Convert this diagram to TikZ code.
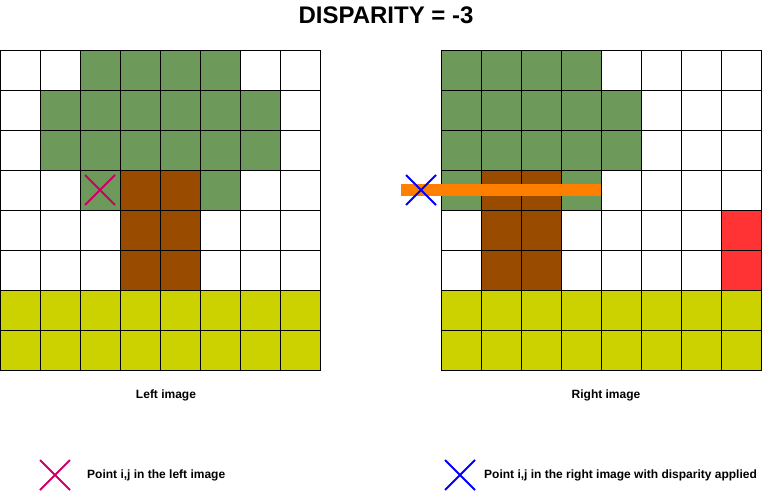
\documentclass[tikz,border=0pt]{standalone}
\usepackage{fontspec}
\setmainfont{Liberation Sans}
\definecolor{cg}{HTML}{6D9A5A}
\definecolor{cb}{HTML}{994C00}
\definecolor{cy}{HTML}{CCD100}
\definecolor{cr}{HTML}{FF3333}
\definecolor{co}{HTML}{FF8000}
\definecolor{cmag}{HTML}{CC0066}
\definecolor{cbl}{HTML}{0000FF}
\begin{document}
\begin{tikzpicture}[x=1pt,y=-1pt,
  lbl/.style={font=\bfseries\fontsize{12}{14}\selectfont,anchor=center,inner sep=0pt},
  cellw/.style={draw=black,line width=0.6pt}]
\useasboundingbox[fill=white] (0,0) rectangle (763,492);
\node[font=\bfseries\fontsize{24}{28}\selectfont] (title) at (386,15) {DISPARITY = -3};
\def\drawrow#1#2#3{%
  \foreach \col [count=\c from 0] in {#3}{
    \fill[\col] ({#1+40*\c},{50+40*#2}) rectangle ++(40,40);
    \draw[cellw] ({#1+40*\c},{50+40*#2}) rectangle ++(40,40);
  }}
\drawrow{0}{0}{white,white,cg,cg,cg,cg,white,white}
\drawrow{0}{1}{white,cg,cg,cg,cg,cg,cg,white}
\drawrow{0}{2}{white,cg,cg,cg,cg,cg,cg,white}
\drawrow{0}{3}{white,white,cg,cb,cb,cg,white,white}
\drawrow{0}{4}{white,white,white,cb,cb,white,white,white}
\drawrow{0}{5}{white,white,white,cb,cb,white,white,white}
\drawrow{0}{6}{cy,cy,cy,cy,cy,cy,cy,cy}
\drawrow{0}{7}{cy,cy,cy,cy,cy,cy,cy,cy}
\drawrow{441}{0}{cg,cg,cg,cg,white,white,white,white}
\drawrow{441}{1}{cg,cg,cg,cg,cg,white,white,white}
\drawrow{441}{2}{cg,cg,cg,cg,cg,white,white,white}
\drawrow{441}{3}{cg,cb,cb,cg,white,white,white,white}
\drawrow{441}{4}{white,cb,cb,white,white,white,white,cr}
\drawrow{441}{5}{white,cb,cb,white,white,white,white,cr}
\drawrow{441}{6}{cy,cy,cy,cy,cy,cy,cy,cy}
\drawrow{441}{7}{cy,cy,cy,cy,cy,cy,cy,cy}
\fill[co] (401,184) rectangle (601,196);
\draw[cmag,line width=2pt] (85,175) -- (115,205) (85,205) -- (115,175);
\draw[cbl,line width=2pt] (406,175) -- (436,205) (406,205) -- (436,175);
\node[lbl] (ll) at (166,395) {Left image};
\node[lbl] (rl) at (606,395) {Right image};
\draw[cmag,line width=2pt] (40,460) -- (70,490) (40,490) -- (70,460);
\node[lbl,anchor=west] (lg1) at (87,475) {Point i,j in the left image};
\draw[cbl,line width=2pt] (445,460) -- (475,490) (445,490) -- (475,460);
\node[lbl,anchor=west] (lg2) at (484,475) {Point i,j in the right image with disparity applied};
\end{tikzpicture}
\end{document}
